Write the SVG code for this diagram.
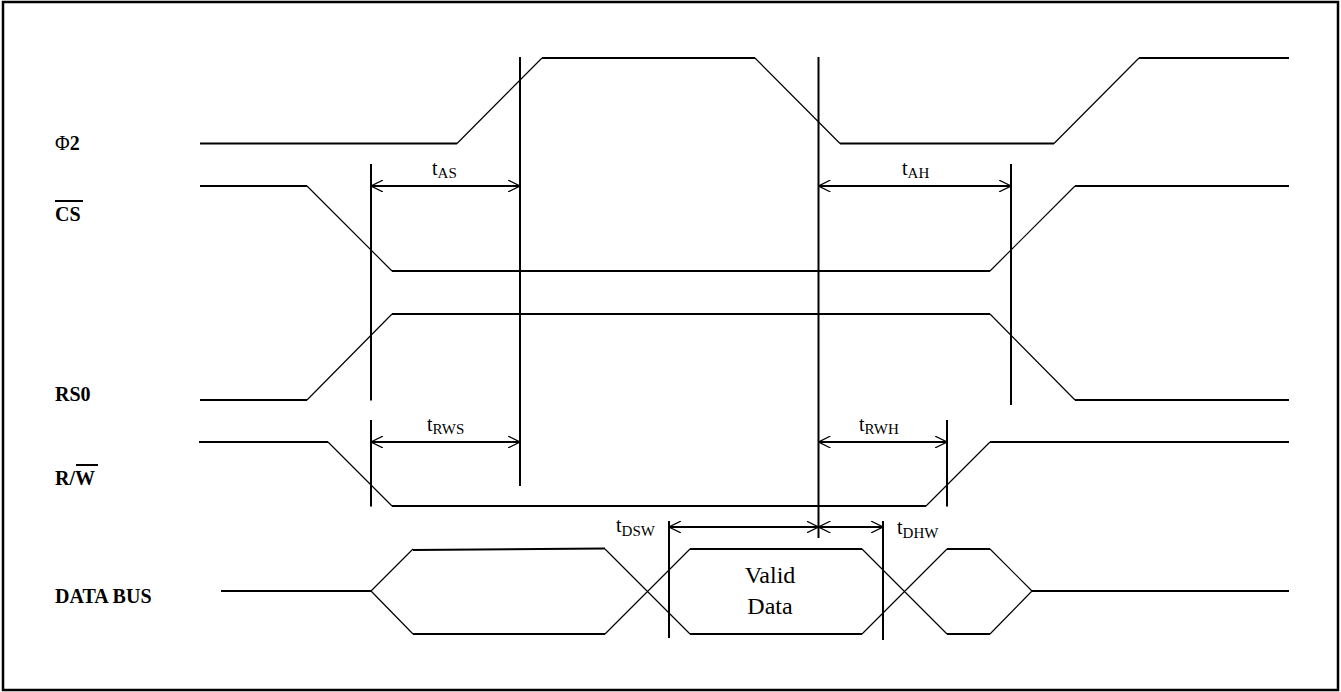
<svg xmlns="http://www.w3.org/2000/svg" width="1341" height="692" viewBox="0 0 1341 692">
<style>
.h{stroke:#000;stroke-width:2;fill:none}
.d{stroke:#000;stroke-width:1.2;fill:none}
.v{stroke:#000;stroke-width:2;fill:none}
.a{stroke:#000;stroke-width:2;fill:none;marker-start:url(#ah);marker-end:url(#ah)}
.lbl{font-family:"Liberation Serif","Times New Roman",serif;font-weight:bold;font-size:20px;fill:#000}
.t{font-family:"Liberation Serif","Times New Roman",serif;font-size:20px;fill:#000}
.sub{font-size:15px}
.vd{font-family:"Liberation Serif","Times New Roman",serif;font-size:24px;fill:#000;text-anchor:middle}
</style>
<defs>
<marker id="ah" viewBox="0 0 12 12" refX="12" refY="6" markerWidth="12" markerHeight="12" markerUnits="userSpaceOnUse" orient="auto-start-reverse">
<path d="M0,0 L12,6 L0,12" fill="none" stroke="#000" stroke-width="1.2"/>
</marker>
</defs>
<rect x="3" y="2" width="1335" height="688" fill="#fff" stroke="#000" stroke-width="2.5"/>

<g id="label-phi2"><text class="lbl" x="55" y="150"><tspan font-weight="normal">Φ</tspan>2</text></g>
<g id="label-cs"><text class="lbl" x="55" y="221">CS</text><line x1="55" y1="201" x2="83" y2="201" stroke="#000" stroke-width="2"/></g>
<g id="label-rs0"><text class="lbl" x="55" y="401">RS0</text></g>
<g id="label-rw"><text class="lbl" x="55" y="485">R/W</text><line x1="76" y1="465" x2="98" y2="465" stroke="#000" stroke-width="2"/></g>
<g id="label-databus"><text class="lbl" x="55" y="603">DATA BUS</text></g>

<g id="signal-phi2">
<path class="h" d="M200,143.5 H457 M542,58 H755 M840,143.5 H1054 M1139,58 H1289"/>
<path class="d" d="M457,143.5 L542,58 M755,58 L840,143.5 M1054,143.5 L1139,58"/>
</g>
<g id="signal-cs">
<path class="h" d="M200,186 H307 M392,271 H990 M1075,186 H1289"/>
<path class="d" d="M307,186 L392,271 M990,271 L1075,186"/>
</g>
<g id="signal-rs0">
<path class="h" d="M200,400 H307 M392,314 H990 M1075,400 H1289"/>
<path class="d" d="M307,400 L392,314 M990,314 L1075,400"/>
</g>
<g id="signal-rw">
<path class="h" d="M199,442 H328 M392,506 H926 M990,442 H1289"/>
<path class="d" d="M328,442 L392,506 M926,506 L990,442"/>
</g>
<g id="signal-databus">
<path class="h" d="M221,591 H371 M413,550 L605,548.5 M413,634 H605 M690,549 H862 M690,634 H862 M947,549 H990 M947,634 H990 M1032,591 H1289"/>
<path class="d" d="M371,591 L413,549 M371,591 L413,634 M605,549 L690,634 M605,634 L690,549 M862,549 L947,634 M862,634 L947,549 M990,549 L1032,591 M990,634 L1032,591"/>
<text class="vd" x="770" y="583">Valid</text>
<text class="vd" x="770" y="614">Data</text>
</g>

<g id="connectors">
<path class="v" d="M371,164 V400.5 M371,420 V506.5 M520,57 V486 M818.5,57 V538 M1011,164 V405 M947,420 V506.5 M669,521 V638 M883,521 V640"/>
<line class="a" x1="371" y1="186" x2="520" y2="186"/>
<line class="a" x1="818.5" y1="186" x2="1011" y2="186"/>
<line class="a" x1="371" y1="442" x2="520" y2="442"/>
<line class="a" x1="818.5" y1="442" x2="947" y2="442"/>
<line class="a" x1="669" y1="527" x2="818.5" y2="527"/>
<line class="a" x1="818.5" y1="527" x2="883" y2="527"/>
<text class="t" x="432" y="175">t<tspan class="sub" dy="3">AS</tspan></text>
<text class="t" x="902" y="175">t<tspan class="sub" dy="3">AH</tspan></text>
<text class="t" x="427" y="431">t<tspan class="sub" dy="3">RWS</tspan></text>
<text class="t" x="859" y="431">t<tspan class="sub" dy="3">RWH</tspan></text>
<text class="t" x="616" y="532">t<tspan class="sub" dy="4">DSW</tspan></text>
<text class="t" x="897" y="534">t<tspan class="sub" dy="4">DHW</tspan></text>
</g>
</svg>
